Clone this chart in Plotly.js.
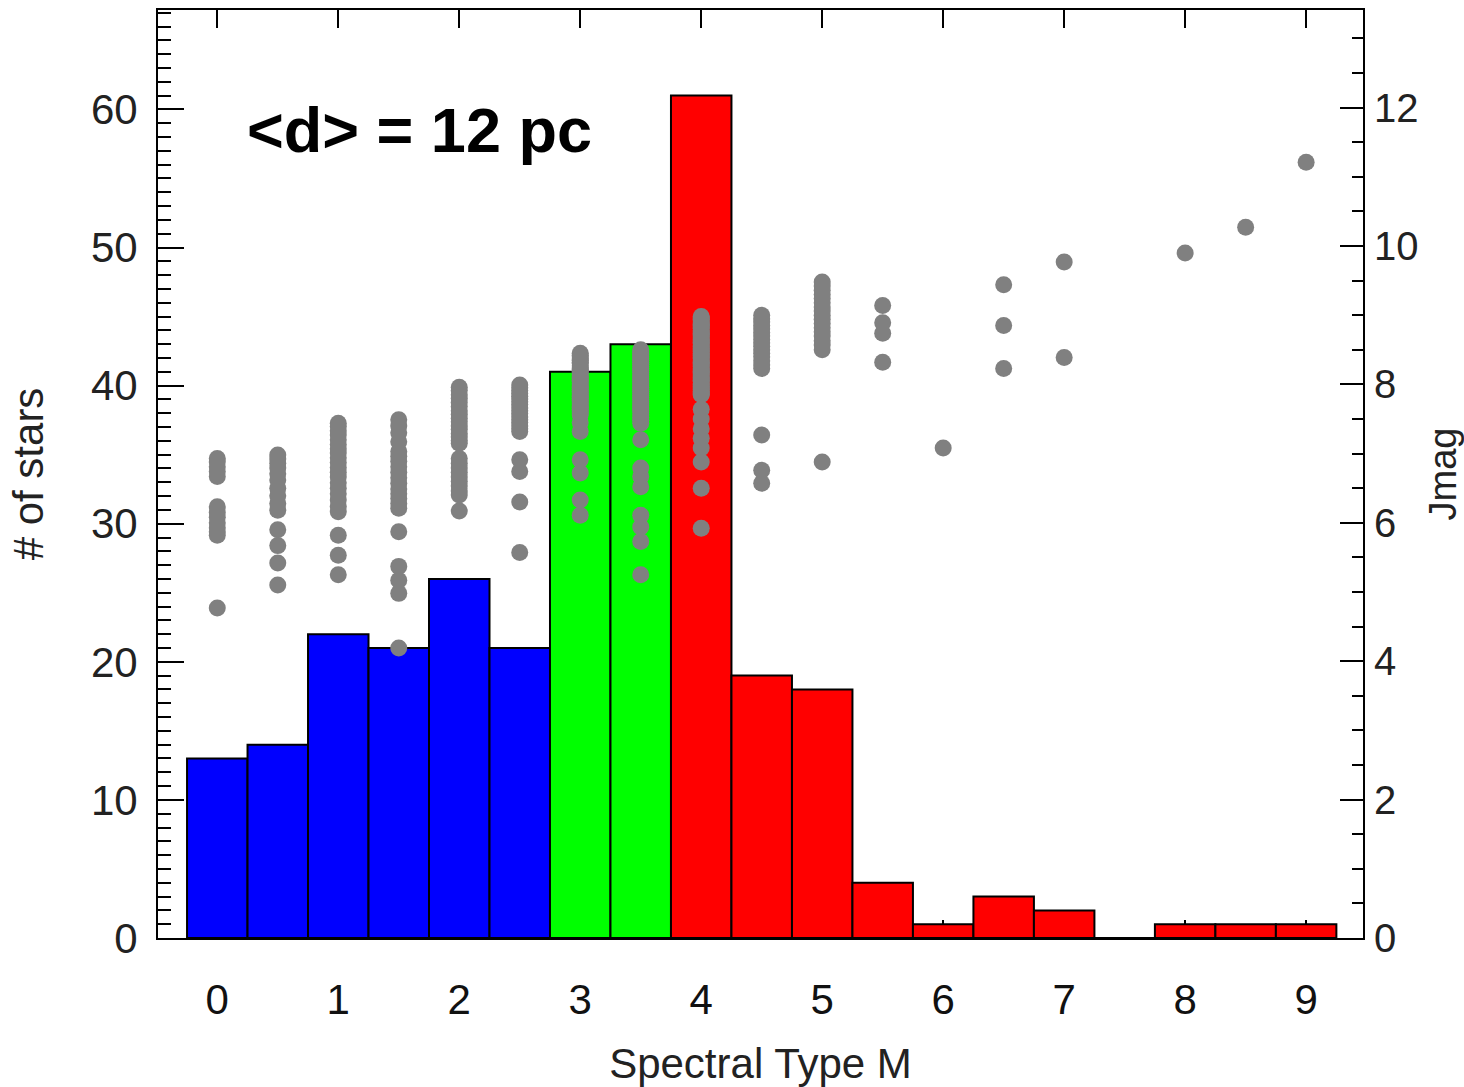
<!DOCTYPE html>
<html>
<head>
<meta charset="utf-8">
<script src="https://cdn.plot.ly/plotly-3.0.1.min.js"></script>
<style>html,body{margin:0;padding:0;background:#fff}#chart{width:1464px;height:1087px}</style>
</head>
<body>
<div id="chart"></div>
<script>
// Spectral subtypes (M dwarfs) and star counts per half-subtype bin
const subtypes = [0, 0.5, 1, 1.5, 2, 2.5, 3, 3.5, 4, 4.5, 5, 5.5, 6, 6.5, 7, 7.5, 8, 8.5, 9];
const counts   = [13, 14, 22, 21, 26, 21, 41, 43, 61, 19, 18, 4, 1, 3, 2, 0, 1, 1, 1];
const xTickVals = [0, 1, 2, 3, 4, 5, 6, 7, 8, 9];
const leftTickVals = [0, 10, 20, 30, 40, 50, 60];
const rightTickVals = [0, 2, 4, 6, 8, 10, 12];

// J magnitudes of individual stars per subtype
const J_M0  = [6.93,6.88,6.81,6.74,6.67, 6.23,6.15,6.08,6.00,5.93,5.87,5.82, 4.77];
const J_M05 = [6.98,6.92,6.86,6.79,6.71,6.62,6.50,6.39,6.28,6.18, 5.90,5.67,5.42,5.10];
const J_M1  = [7.44,7.39,7.33,7.27,7.20,7.13,7.07,7.01,6.94,6.87,6.80,6.73,6.66,6.58,6.50,6.42,6.33,6.24,6.16, 5.82,5.53,5.25];
const J_M15 = [7.49,7.40,7.30,7.17, 7.03,6.96,6.89,6.81,6.73,6.65,6.57,6.49,6.42,6.35,6.28,6.21, 5.87,5.37,5.17,4.98,4.19];
const J_M2  = [7.96,7.91,7.85,7.80,7.74,7.68,7.62,7.57,7.51,7.46,7.40,7.35,7.29,7.24,7.19,7.15, 6.93,6.86,6.79,6.73,6.66,6.60,6.53,6.46,6.40, 6.17];
const J_M25 = [7.99,7.95,7.91,7.87,7.83,7.79,7.75,7.71,7.66,7.62,7.58,7.53,7.49,7.45,7.40,7.36,7.32, 6.91,6.74,6.30,5.57];
const J_M3  = [8.45,8.42,8.40,8.37,8.35,8.32,8.30,8.27,8.24,8.22,8.19,8.17,8.14,8.11,8.09,8.06,8.04,8.01,7.98,7.96,7.93,7.90,7.88,7.85,7.83,7.80,7.77,7.75,7.72,7.69,7.67,7.64,7.62,7.59,7.56, 7.45,7.32,6.91,6.72,6.33,6.11];
const J_M35 = [8.50,8.47,8.44,8.41,8.38,8.35,8.32,8.29,8.26,8.23,8.20,8.17,8.14,8.11,8.08,8.05,8.02,7.99,7.96,7.93,7.90,7.87,7.84,7.81,7.78,7.75,7.72,7.69,7.66,7.63,7.60,7.56,7.52,7.48,7.44, 7.20,6.79,6.67,6.52,6.11,5.94,5.73,5.25];
const J_M4  = [8.98,8.96,8.94,8.92,8.89,8.87,8.85,8.83,8.81,8.78, 8.76,8.74,8.72,8.70,8.67,8.65,8.63,8.61,8.59,8.56, 8.54,8.52,8.50,8.48,8.45,8.43,8.41,8.39,8.37,8.34, 8.32,8.30,8.28,8.26,8.23,8.21,8.19,8.17,8.15,8.12, 8.10,8.08,8.06,8.04,8.01,7.99,7.97,7.95,7.93,7.90, 7.88,7.86,7.85, 7.64,7.50,7.36,7.22,7.08,6.88,6.50,5.92];
const J_M45 = [9.00,8.95,8.90,8.85,8.80,8.75,8.70,8.65,8.60,8.55,8.50,8.45,8.40,8.34,8.28,8.23, 7.27,6.76,6.57];
const J_M5  = [9.48,9.42,9.36,9.30,9.24,9.18,9.12,9.06,9.00,8.94,8.88,8.82,8.76,8.70,8.63,8.57,8.50, 6.88];
const J_M55 = [9.14,8.89,8.74,8.32];
const J_M6  = [7.08];
const J_M65 = [9.44,8.85,8.23];
const J_M7  = [9.77,8.39];
const J_M75 = [];
const J_M8  = [9.90];
const J_M85 = [10.27];
const J_M9  = [11.21];

const jmagLists = [J_M0,J_M05,J_M1,J_M15,J_M2,J_M25,J_M3,J_M35,J_M4,J_M45,J_M5,J_M55,J_M6,J_M65,J_M7,J_M75,J_M8,J_M85,J_M9];

const scatterX = [], scatterY = [];
jmagLists.forEach((list, i) => list.forEach(v => { scatterX.push(subtypes[i]); scatterY.push(v); }));

function barColor(t) { return t < 3 ? '#0000ff' : (t < 4 ? '#00ff00' : '#ff0000'); }

const FONT = 'Liberation Sans, Arial, Helvetica, sans-serif';

const bars = {
  type: 'bar', x: subtypes, y: counts, width: 0.5,
  marker: { color: subtypes.map(barColor), line: { color: '#000', width: 2 } },
  xaxis: 'x', yaxis: 'y', hoverinfo: 'x+y'
};
const dots = {
  type: 'scatter', mode: 'markers', x: scatterX, y: scatterY,
  marker: { color: '#808080', size: 17 },
  xaxis: 'x', yaxis: 'y2', hoverinfo: 'x+y'
};

const layout = {
  width: 1464, height: 1087,
  margin: { l: 158, r: 101, t: 10, b: 149 },
  paper_bgcolor: '#fff', plot_bgcolor: '#fff',
  showlegend: false,
  font: { family: FONT, color: '#111' },
  bargap: 0,
  xaxis: {
    range: [-0.49, 9.47], tickvals: xTickVals, ticktext: xTickVals.map(String),
    ticks: 'inside', ticklen: 18, tickwidth: 2, tickcolor: '#000',
    showline: true, linecolor: '#000', linewidth: 2, mirror: 'ticks',
    showgrid: false, zeroline: false, layer: 'below traces',
    tickfont: { family: FONT, size: 42, color: '#111' }, ticklabelstandoff: 24,
    title: { text: 'Spectral Type M', font: { family: FONT, size: 42, color: '#222' }, standoff: 26 },
    automargin: false
  },
  yaxis: {
    range: [0, 67.2], tickvals: leftTickVals,
    ticks: 'inside', ticklen: 26, tickwidth: 2, tickcolor: '#000',
    minor: { dtick: 1, tick0: 0, ticks: 'inside', ticklen: 13, tickwidth: 2, tickcolor: '#000', showgrid: false },
    showline: true, linecolor: '#000', linewidth: 2,
    showgrid: false, zeroline: false,
    tickfont: { family: FONT, size: 42, color: '#222' }, ticklabelstandoff: 10,
    title: { text: '# of stars', font: { family: FONT, size: 42, color: '#222' }, standoff: 34 },
    automargin: false
  },
  yaxis2: {
    overlaying: 'y', side: 'right',
    range: [0, 13.41], tickvals: rightTickVals,
    ticks: 'inside', ticklen: 23, tickwidth: 2, tickcolor: '#000',
    minor: { dtick: 0.5, tick0: 0, ticks: 'inside', ticklen: 11, tickwidth: 2, tickcolor: '#000', showgrid: false },
    showline: true, linecolor: '#000', linewidth: 2,
    showgrid: false, zeroline: false,
    tickfont: { family: FONT, size: 40, color: '#222' }, ticklabelstandoff: 1,
    title: { text: 'Jmag', font: { family: FONT, size: 38, color: '#222' }, standoff: 24 },
    automargin: false
  },
  annotations: [{
    xref: 'paper', yref: 'paper', x: 0.0722, y: 0.8707, xanchor: 'left', yanchor: 'middle',
    text: '<b>&lt;d&gt; = 12 pc</b>', showarrow: false,
    font: { family: FONT, size: 63, color: '#000' }
  }]
};

Plotly.newPlot('chart', [bars, dots], layout, { displayModeBar: false, staticPlot: true });
</script>
</body>
</html>
